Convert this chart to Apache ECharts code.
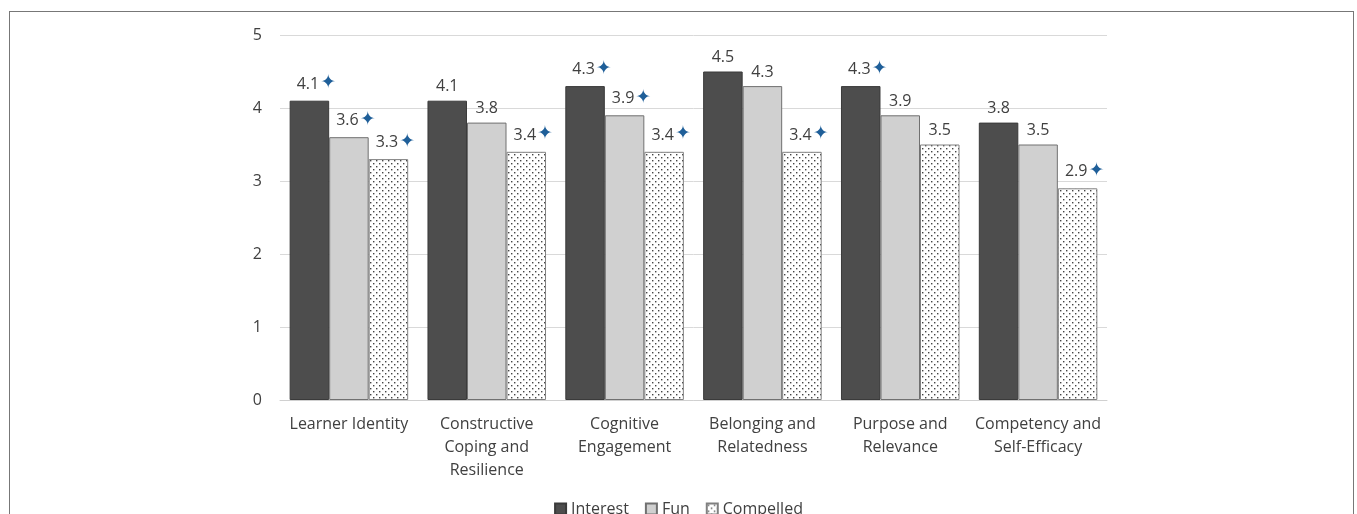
<!DOCTYPE html>
<html><head><meta charset="utf-8">
<script src="https://cdn.jsdelivr.net/npm/echarts@6/dist/echarts.min.js"></script>
<style>
html,body{margin:0;padding:0;background:#fff;}
#frame{position:absolute;left:9px;top:11px;width:1345px;height:520px;border:1.5px solid #777;box-sizing:border-box;}
#c{position:absolute;left:0;top:0;width:1357px;height:514px;}
</style></head>
<body>
<div id="frame"></div>
<div id="c"></div>
<script>
const categories = ['Learner Identity','Constructive\nCoping and\nResilience','Cognitive\nEngagement','Belonging and\nRelatedness','Purpose and\nRelevance','Competency and\nSelf-Efficacy'];
const interest = [4.1, 4.1, 4.3, 4.5, 4.3, 3.8];
const fun = [3.6, 3.8, 3.9, 4.3, 3.9, 3.5];
const compelled = [3.3, 3.4, 3.4, 3.4, 3.5, 2.9];
const interestStar = [true, false, true, false, true, false];
const funStar = [true, false, true, false, false, false];
const compelledStar = [true, true, true, true, false, true];
const yTicks = [0, 1, 2, 3, 4, 5];

function makePattern(){
  const cv = document.createElement('canvas');
  cv.width = 6; cv.height = 6;
  const ctx = cv.getContext('2d');
  ctx.fillStyle = '#fff'; ctx.fillRect(0,0,6,6);
  ctx.fillStyle = '#444';
  ctx.fillRect(1,1,1.4,1.4);
  ctx.fillRect(4,4,1.4,1.4);
  return cv;
}
const pattern = {image: makePattern(), repeat: 'repeat'};
const font = '"Open Sans", Lato, sans-serif';
const txt = '#404040';
const fs = 16;

function mkData(vals, stars){
  return vals.map((v,i)=>({
    value: v,
    label: stars[i] ? {formatter: '{c}{s|✦}', offset:[7,0]} : {formatter: '{c}'}
  }));
}
const labelBase = {
  show: true, position: 'top', distance: 6, color: txt, fontSize: fs, fontFamily: font,
  rich: {s: {color: '#1f5f99', fontSize: 19, fontFamily: 'DejaVu Sans', padding:[0,0,2,1]}}
};

const chart = echarts.init(document.getElementById('c'));
chart.setOption({
  animation: false,
  textStyle: {fontFamily: font},
  grid: {left: 280, right: 250, top: 35, bottom: 114, containLabel: false},
  legend: {
    bottom: -8, left: 'center', itemWidth: 11, itemHeight: 11, itemGap: 16, icon: 'rect',
    textStyle: {color: txt, fontSize: fs, fontFamily: font},
    data: ['Interest','Fun','Compelled']
  },
  xAxis: {
    type: 'category', data: categories,
    axisLine: {lineStyle: {color: '#d0d0d0'}},
    axisTick: {show: false},
    axisLabel: {color: txt, fontSize: fs, fontFamily: font, lineHeight: 23, margin: 13, interval: 0}
  },
  yAxis: {
    type: 'value', min: yTicks[0], max: yTicks[yTicks.length-1], interval: 1,
    axisLine: {show: false}, axisTick: {show: false},
    splitLine: {lineStyle: {color: '#d9d9d9', width: 1}},
    axisLabel: {color: txt, fontSize: fs, fontFamily: font, margin: 18}
  },
  series: [
    {name: 'Interest', type: 'bar', barGap: '0%', barCategoryGap: '14%',
     itemStyle: {color: '#4d4d4d', borderColor: '#3a3a3a', borderWidth: 1},
     label: labelBase, data: mkData(interest, interestStar)},
    {name: 'Fun', type: 'bar', barGap: '0%', barCategoryGap: '14%',
     itemStyle: {color: '#d0d0d0', borderColor: '#707070', borderWidth: 1},
     label: labelBase, data: mkData(fun, funStar)},
    {name: 'Compelled', type: 'bar', barGap: '0%', barCategoryGap: '14%',
     itemStyle: {color: pattern, borderColor: '#808080', borderWidth: 1},
     label: labelBase, data: mkData(compelled, compelledStar)}
  ]
});
</script>
</body></html>
